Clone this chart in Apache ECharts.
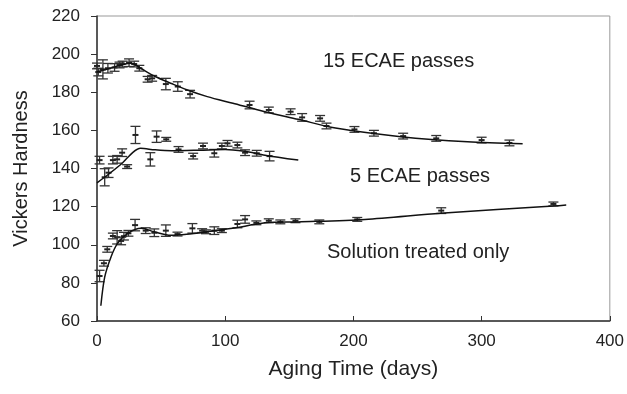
<!DOCTYPE html>
<html>
<head>
<meta charset="utf-8">
<script src="https://cdn.jsdelivr.net/npm/echarts@6/dist/echarts.min.js"></script>
<style>
  html, body { margin: 0; padding: 0; background: #fff; }
  #chart { width: 627px; height: 394px; }
</style>
</head>
<body>
<div id="chart"></div>
<script>
// measured points: day, hardness, error half-height
const ecae15Days = [0, 1, 4.6, 8.5, 13.7, 17.6, 20, 25, 29, 33, 39.5, 43, 53.7, 63, 72.6, 119, 134, 151, 160, 174, 179, 200.8, 216, 238.8, 264.6, 300, 321.7];
const ecae15Hv   = [193.8, 190.6, 192, 192.6, 193, 194.3, 194.8, 195.5, 194.8, 192.6, 186.8, 187.3, 184.3, 183, 179, 173.3, 170.7, 169.8, 166.8, 166.3, 162.3, 160.5, 158.5, 157, 155.8, 154.9, 153.4];
const ecae15Err  = [1.5, 2, 5, 2.5, 2, 1.5, 1.5, 2, 1.5, 1.5, 1.5, 1.5, 3, 2.5, 2, 2, 1.5, 1.5, 2, 1.5, 1.5, 1.5, 1.5, 1.5, 1.5, 1.5, 1.5];

const ecae5Days = [2, 6, 9, 12.4, 15.7, 19.6, 23.5, 30, 41.6, 46.5, 54, 63.6, 75, 82.7, 91.5, 97.4, 101.8, 109.5, 115.5, 124.6, 134.6];
const ecae5Hv   = [144.4, 135.4, 137.8, 144.4, 144.8, 148.3, 141, 157.6, 144.8, 156.7, 155.3, 150, 146.5, 151.8, 148, 151.8, 153.2, 152.3, 148.3, 148, 146.5];
const ecae5Err  = [2, 4.5, 2.5, 2, 2, 2, 1, 4.5, 3.5, 3, 1, 1.5, 1.5, 1.5, 2, 1.5, 1.5, 1.5, 1.5, 1.5, 2.5];

const solDays = [2, 5.4, 8, 12.4, 15.7, 18.8, 21, 24.5, 29.7, 38, 44.7, 53.7, 62.8, 74.4, 82, 85, 91.5, 97.4, 109.5, 115.5, 124.3, 134, 143, 154.8, 173.4, 203, 268.5, 356];
const solHv   = [83.6, 90.3, 97.6, 104.6, 103.9, 102, 104.5, 106, 110.3, 107.4, 106.3, 107.4, 105.6, 108.6, 107.4, 106.8, 107.4, 107.4, 110.9, 113.3, 111.5, 112.6, 112, 112.6, 112, 113.3, 117.9, 121.4];
const solErr  = [3, 1.5, 1.5, 1.5, 3.5, 2, 2, 1.5, 3, 1.5, 2, 3, 1, 2.5, 1, 1, 2, 1, 2, 2, 1, 1, 1, 1, 1, 1, 1.5, 1];

// fitted curves
const ecae15FitDays = [0, 10, 20, 27, 34, 45, 58, 70, 86, 106, 131, 157, 186, 237, 289, 332];
const ecae15FitHv   = [190.8, 192.5, 194.5, 195.2, 192.6, 188.4, 184.6, 181.3, 177.7, 174.2, 169.8, 165.8, 161.2, 156.7, 154, 153];
const ecae5FitDays = [0, 10, 20, 28, 34, 45, 58, 80, 100, 115, 131, 157];
const ecae5FitHv   = [132.5, 137.5, 143, 148.5, 150.6, 149.8, 149.3, 149.6, 150, 149, 147, 144.4];
const solFitDays = [3, 6, 11, 16, 24, 34.4, 44.7, 57.6, 70, 86, 105.7, 131.5, 157, 209, 268, 356, 366];
const solFitHv   = [68, 83, 93.7, 100.7, 106, 108.6, 106.8, 105, 105.5, 106.8, 108.6, 111.5, 112, 113.3, 116.5, 120.3, 120.8];

const xTicks = [0, 100, 200, 300, 400];
const yTicks = [60, 80, 100, 120, 140, 160, 180, 200, 220];

function zip(a, b, c) {
  return a.map((v, i) => c ? [v, b[i], c[i]] : [v, b[i]]);
}

function errorBar(params, api) {
  const x = api.value(0), y = api.value(1), e = api.value(2);
  const c = api.coord([x, y]);
  const hi = api.coord([x, y + e]);
  const lo = api.coord([x, y - e]);
  const w = 5;
  const st = { stroke: '#333', lineWidth: 1.3 };
  return {
    type: 'group',
    children: [
      { type: 'line', shape: { x1: c[0], y1: hi[1], x2: c[0], y2: lo[1] }, style: st },
      { type: 'line', shape: { x1: c[0] - w, y1: hi[1], x2: c[0] + w, y2: hi[1] }, style: st },
      { type: 'line', shape: { x1: c[0] - w, y1: lo[1], x2: c[0] + w, y2: lo[1] }, style: st },
      { type: 'line', shape: { x1: c[0] - 3, y1: c[1], x2: c[0] + 3, y2: c[1] }, style: { stroke: '#222', lineWidth: 2 } }
    ]
  };
}

const chart = echarts.init(document.getElementById('chart'));
const font = 'Liberation Sans, Arial, Helvetica, sans-serif';

chart.setOption({
  animation: false,
  grid: { left: 97, right: 14, top: 16, bottom: 73, show: true, borderColor: '#999', borderWidth: 1 },
  xAxis: {
    type: 'value', min: xTicks[0], max: xTicks[xTicks.length - 1], interval: 100,
    name: 'Aging Time (days)', nameLocation: 'middle', nameGap: 38,
    nameTextStyle: { fontFamily: font, fontSize: 21, color: '#222' },
    axisLine: { lineStyle: { color: '#333', width: 1.5 } },
    axisTick: { inside: true, length: 5, lineStyle: { color: '#333' } },
    axisLabel: { fontFamily: font, fontSize: 17, color: '#222', margin: 12 },
    splitLine: { show: false }
  },
  yAxis: {
    type: 'value', min: yTicks[0], max: yTicks[yTicks.length - 1], interval: 20,
    name: 'Vickers Hardness', nameLocation: 'middle', nameGap: 66,
    nameTextStyle: { fontFamily: font, fontSize: 20, color: '#222' },
    axisLine: { show: true, lineStyle: { color: '#333', width: 1.5 } },
    axisTick: { show: true, length: 6, lineStyle: { color: '#333' } },
    axisLabel: { fontFamily: font, fontSize: 17, color: '#222', margin: 17 },
    splitLine: { show: false }
  },
  graphic: [
    { type: 'text', left: 323, top: 51, style: { text: '15 ECAE passes', font: '20px ' + font, fill: '#222' } },
    { type: 'text', left: 350, top: 166, style: { text: '5 ECAE passes', font: '20px ' + font, fill: '#222' } },
    { type: 'text', left: 327, top: 242, style: { text: 'Solution treated only', font: '20px ' + font, fill: '#222' } }
  ],
  series: [
    { type: 'line', data: zip(ecae15FitDays, ecae15FitHv), smooth: 0.3, showSymbol: false, lineStyle: { color: '#111', width: 1.5 } },
    { type: 'line', data: zip(ecae5FitDays, ecae5FitHv), smooth: 0.3, showSymbol: false, lineStyle: { color: '#111', width: 1.5 } },
    { type: 'line', data: zip(solFitDays, solFitHv), smooth: 0.3, showSymbol: false, lineStyle: { color: '#111', width: 1.5 } },
    { type: 'custom', renderItem: errorBar, data: zip(ecae15Days, ecae15Hv, ecae15Err) },
    { type: 'custom', renderItem: errorBar, data: zip(ecae5Days, ecae5Hv, ecae5Err) },
    { type: 'custom', renderItem: errorBar, data: zip(solDays, solHv, solErr) }
  ]
});
</script>
</body>
</html>
